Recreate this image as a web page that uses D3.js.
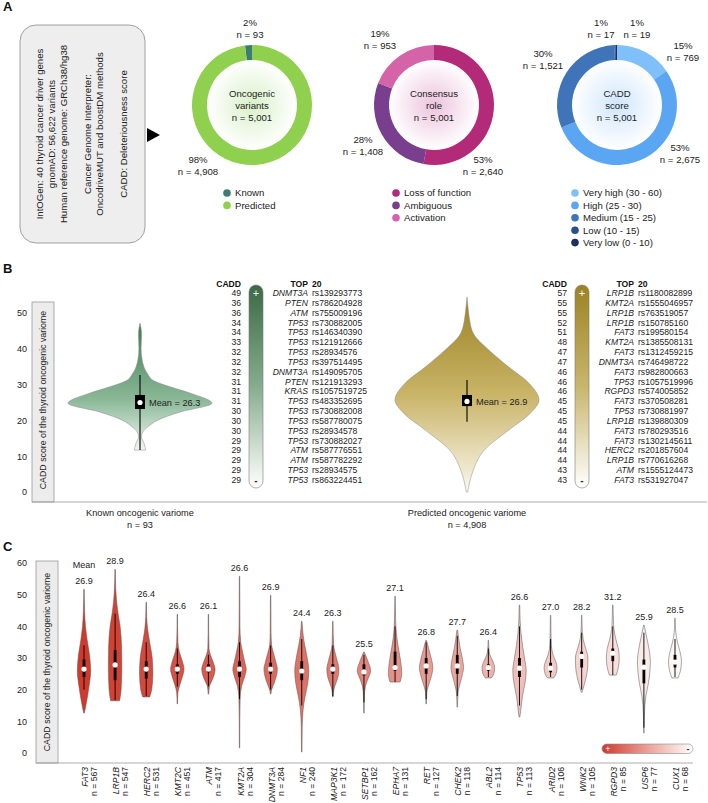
<!DOCTYPE html>
<html>
<head>
<meta charset="utf-8">
<script src="https://cdn.jsdelivr.net/npm/d3@7"></script>
<style>
  body { margin: 0; background: #fff; }
  svg { display: block; font-family: "Liberation Sans", Arial, Helvetica, sans-serif; }
</style>
</head>
<body>
<script>
// ---------- panel A data ----------
const oncogenicLabels = ["Known", "Predicted"]
const oncogenicCounts = [93, 4908]
const oncogenicPercents = ["2%", "98%"]

const roleLabels = ["Loss of function", "Ambiguous", "Activation"]
const roleCounts = [2640, 1408, 953]
const rolePercents = ["53%", "28%", "19%"]

const caddLabels = ["Very high (30 - 60)", "High (25 - 30)", "Medium (15 - 25)", "Low (10 - 15)", "Very low (0 - 10)"]
const caddCounts = [769, 2675, 1521, 17, 19]
const caddPercents = ["15%", "53%", "30%", "1%", "1%"]

const sourceLines = [
    "IntOGen: 40 thyroid cancer driver genes",
    "gnomAD: 56,622 variants",
    "Human reference genome: GRCh38/hg38",
    "",
    "Cancer Genome Interpreter:",
    "OncodriveMUT and boostDM methods",
    "",
    "CADD: Deleteriousness score"
]

// ---------- panel B data ----------
const bTicks = [0, 10, 20, 30, 40, 50]
// violin profiles: [CADD, relative density]
const knownProfile = [[11.7, 0.08], [13.7, 0.055], [15.4, 0.02], [16.8, 0.04], [18.2, 0.11], [20, 0.24], [22.3, 0.55], [24.8, 1], [27.6, 0.7], [29.3, 0.43], [31, 0.2], [33.2, 0.1], [36.9, 0.03], [40, 0.015], [44, 0.022], [46, 0.012], [47.2, 0]]
const predictedProfile = [[0, 0.01], [3, 0.04], [6, 0.085], [11.7, 0.24], [17.3, 0.58], [22, 0.88], [25.7, 1], [30.4, 0.86], [34.9, 0.58], [39.7, 0.3], [44.4, 0.085], [48.9, 0.03], [52, 0.012], [54.5, 0]]
// [whisker low, q1, median, q3, whisker high]
const knownBox = [11.7, 23.2, 25, 27.1, 32.7]
const predictedBox = [19.6, 24, 25.3, 27.1, 31.3]
const knownMean = 26.3
const predictedMean = 26.9

const knownTopCadd = [49, 36, 36, 34, 34, 33, 32, 32, 32, 31, 31, 31, 30, 30, 30, 29, 29, 29, 29, 29]
const knownTopGenes = ["DNMT3A", "PTEN", "ATM", "TP53", "TP53", "TP53", "TP53", "TP53", "DNMT3A", "PTEN", "KRAS", "TP53", "TP53", "TP53", "TP53", "TP53", "ATM", "ATM", "TP53", "TP53"]
const knownTopIds = ["rs139293773", "rs786204928", "rs755009196", "rs730882005", "rs146340390", "rs121912666", "rs28934576", "rs397514495", "rs149095705", "rs121913293", "rs1057519725", "rs483352695", "rs730882008", "rs587780075", "rs28934578", "rs730882027", "rs587776551", "rs587782292", "rs28934575", "rs863224451"]

const predictedTopCadd = [57, 55, 55, 52, 51, 48, 47, 47, 46, 46, 46, 45, 45, 45, 44, 44, 44, 44, 43, 43]
const predictedTopGenes = ["LRP1B", "KMT2A", "LRP1B", "LRP1B", "FAT3", "KMT2A", "FAT3", "DNMT3A", "FAT3", "TP53", "RGPD3", "FAT3", "TP53", "LRP1B", "FAT3", "FAT3", "HERC2", "LRP1B", "ATM", "FAT3"]
const predictedTopIds = ["rs1180082899", "rs1555046957", "rs763519057", "rs150785160", "rs199580154", "rs1385508131", "rs1312459215", "rs746498722", "rs982800663", "rs1057519996", "rs574005852", "rs370508281", "rs730881997", "rs139880309", "rs780293516", "rs1302145611", "rs201857604", "rs770616268", "rs1555124473", "rs531927047"]

// ---------- panel C data ----------
const cTicks = [0, 10, 20, 30, 40, 50, 60]
const geneNames = ["FAT3", "LRP1B", "HERC2", "KMT2C", "ATM", "KMT2A", "DNMT3A", "NF1", "MAP3K1", "SETBP1", "EPHA7", "RET", "CHEK2", "ABL2", "TP53", "ARID2", "WNK2", "RGPD3", "USP6", "CUX1"]
const geneCounts = [567, 547, 531, 451, 417, 304, 284, 240, 172, 162, 131, 127, 118, 114, 113, 106, 105, 85, 77, 68]
const geneMeans = [26.9, 28.9, 26.4, 26.6, 26.1, 26.6, 26.9, 24.4, 26.3, 25.5, 27.1, 26.8, 27.7, 26.4, 26.6, 27.0, 28.2, 31.2, 25.9, 28.5]
// [whisker low, q1, median, q3, whisker high]
const geneBoxes = [
    [20, 24, 26.5, 29.5, 34], [16.7, 23, 27.8, 32.5, 44], [18, 23.5, 26.5, 29, 35], [21, 25, 26.5, 28, 33],
    [21, 25.5, 26.5, 28, 31], [17, 24, 26.5, 29, 35], [20, 25, 26.5, 28.5, 34], [15, 23, 25.9, 29, 36],
    [18, 25, 26.5, 28, 34], [16, 24.5, 25.6, 28, 31], [22.4, 26, 27, 32, 40], [17, 25, 27.5, 30, 35],
    [18, 25, 27.5, 31, 37], [24, 26, 27, 28, 33], [15, 24, 26.8, 30, 40], [24, 25.5, 26.8, 28.5, 36],
    [20, 27, 30.5, 32, 38], [24.6, 29, 31.5, 33, 40], [8, 22, 27.1, 29.5, 38], [24, 27, 28.7, 31, 36]
]
// violin profiles: [CADD, relative density]
const geneProfiles = [
    [[12.6, 0.05], [16, 0.37], [21, 0.75], [26, 1], [31, 0.82], [36, 0.45], [40, 0.22], [45, 0.09], [51.7, 0.03]],
    [[16.5, 0.67], [20, 0.9], [27, 1], [33, 0.97], [40, 0.75], [44, 0.45], [48, 0.22], [52, 0.09], [58, 0.03]],
    [[17.7, 0.52], [20, 0.82], [25, 1], [30, 0.9], [35, 0.52], [39, 0.22], [43, 0.07], [47.6, 0.03]],
    [[15.5, 0.03], [19, 0.09], [21.5, 0.37], [24, 0.75], [26.5, 1], [29, 0.75], [32, 0.3], [35, 0.09], [40, 0.04], [43.8, 0.03]],
    [[18.6, 0.04], [21, 0.15], [22.5, 0.45], [25, 0.9], [26.5, 1], [28.5, 0.75], [31, 0.3], [33, 0.09], [38, 0.04], [43.8, 0.03]],
    [[1.6, 0.03], [10, 0.04], [17, 0.09], [21, 0.3], [24, 0.75], [26.5, 1], [29, 0.75], [32, 0.45], [35, 0.18], [40, 0.06], [55.8, 0.03]],
    [[18.6, 0.04], [20, 0.15], [22, 0.52], [26.5, 1], [29, 0.75], [32, 0.37], [34, 0.15], [38, 0.06], [49.8, 0.03]],
    [[0.3, 0.04], [8, 0.07], [14, 0.22], [18, 0.52], [22, 0.9], [26, 1.05], [30, 0.82], [34, 0.45], [37, 0.22], [41.6, 0.04]],
    [[17.7, 0.04], [20, 0.15], [22, 0.45], [24.5, 0.82], [26.5, 0.9], [29, 0.67], [32, 0.3], [34, 0.12], [41.6, 0.03]],
    [[12.6, 0.04], [18, 0.07], [21, 0.22], [23, 0.52], [26, 1], [29, 0.6], [31, 0.22], [31.9, 0.04]],
    [[22.4, 0.75], [25, 1], [28, 0.9], [32, 0.6], [36, 0.3], [40, 0.12], [45, 0.06], [49.5, 0.03]],
    [[15.5, 0.04], [19, 0.09], [21, 0.3], [24, 0.75], [27, 1], [30, 0.75], [33, 0.37], [35.6, 0.06]],
    [[14.5, 0.04], [19, 0.12], [21, 0.3], [24, 0.67], [27, 0.94], [30, 0.75], [33, 0.45], [36, 0.22], [38.8, 0.06]],
    [[23.7, 0.45], [25, 0.82], [27, 0.94], [29, 0.67], [31, 0.22], [33, 0.09], [35.6, 0.03]],
    [[11.4, 0.06], [14, 0.22], [18, 0.45], [22, 0.82], [26, 1], [30, 0.75], [34, 0.45], [38, 0.22], [42, 0.09], [46.7, 0.04]],
    [[23.7, 0.45], [25, 0.82], [27, 0.97], [29, 0.75], [31, 0.37], [34, 0.12], [38, 0.06], [43.5, 0.03]],
    [[19.2, 0.07], [21, 0.3], [24, 0.67], [27, 0.9], [30, 0.94], [33, 0.6], [36, 0.22], [40, 0.06], [43.5, 0.03]],
    [[24.6, 0.52], [27, 0.82], [30, 0.97], [33, 0.82], [36, 0.45], [39, 0.18], [42, 0.09], [46.7, 0.04]],
    [[6.3, 0.04], [12, 0.07], [18, 0.3], [22, 0.67], [26, 0.9], [29, 0.97], [33, 0.75], [37, 0.37], [40.4, 0.04]],
    [[23.7, 0.45], [26, 0.82], [29, 0.97], [32, 0.75], [35, 0.37], [38, 0.12], [42.6, 0.03]]
]

// ---------- drawing ----------
const svg = d3.select("body").append("svg")
    .attr("width", 708)
    .attr("height", 803)
const defs = svg.append("defs")
const textColor = "#222"

function linearGradient(id, stops, horizontal = false) {
    const g = defs.append("linearGradient")
        .attr("id", id)
        .attr("x1", 0).attr("y1", 0)
        .attr("x2", horizontal ? 1 : 0).attr("y2", horizontal ? 0 : 1)
    g.selectAll("stop").data(stops).join("stop")
        .attr("offset", d => d[0])
        .attr("stop-color", d => d[1])
    return `url(#${id})`
}

function panelLetter(letter, y) {
    svg.append("text")
        .attr("x", 3).attr("y", y)
        .attr("font-size", 13).attr("font-weight", "bold")
        .attr("fill", "#111")
        .text(letter)
}

// violin path, profile given low -> high CADD
const violinPath = (cx, y, w, profile) => d3.area()
    .curve(d3.curveMonotoneY)
    .y(d => y(d[0]))
    .x0(d => cx - w(d[1]))
    .x1(d => cx + w(d[1]))(profile.slice().reverse())

// ===== A =====
panelLetter("A", 11)

const boxA = svg.append("g")
boxA.append("rect")
    .attr("x", 20).attr("y", 25)
    .attr("width", 125).attr("height", 218)
    .attr("rx", 16)
    .attr("fill", "#eeeeee")
    .attr("stroke", "#8a8a8a")
    .attr("stroke-width", 0.8)

const lineX = d3.scalePoint().domain(d3.range(sourceLines.length)).range([42.5, 126.5])
boxA.selectAll("text")
    .data(sourceLines)
    .join("text")
    .attr("transform", (d, i) => `translate(${lineX(i)},134) rotate(-90)`)
    .attr("text-anchor", "middle")
    .attr("font-size", 9.6)
    .attr("fill", textColor)
    .text(d => d)

svg.append("path")
    .attr("d", "M147,128L160,135L147,142Z")
    .attr("fill", "#000")

const donuts = [
    {
        id: "onc", cx: 252, title: ["Oncogenic", "variants", "n = 5,001"],
        labels: oncogenicLabels, counts: oncogenicCounts, percents: oncogenicPercents,
        colors: ["#3d7b73", "#8fd14f"], tint: "#d9f0c8", reverse: true,
        labelPos: [[-2, -83], [-54, 54]], legendX: 227
    },
    {
        id: "role", cx: 434, title: ["Consensus", "role", "n = 5,001"],
        labels: roleLabels, counts: roleCounts, percents: rolePercents,
        colors: ["#b22a78", "#7a3e8e", "#d563a8"], tint: "#ecc3dc", reverse: false,
        labelPos: [[49, 54], [-71, 34], [-54, -72]], legendX: 396
    },
    {
        id: "cadd", cx: 617, title: ["CADD", "score", "n = 5,001"],
        labels: caddLabels, counts: caddCounts, percents: caddPercents,
        colors: ["#80c0fa", "#5ba6f3", "#3f74b8", "#2b4f88", "#1e315d"], tint: "#cfe6fb", reverse: false,
        labelPos: [[66, -60], [63, 42], [-74, -52], [-16, -83], [20, -83]], legendX: 575
    }
]
const donutCy = 105
const arc = d3.arc().innerRadius(45).outerRadius(60)

donuts.forEach(dn => {
    const pie = d3.pie().sort(null)
    if (dn.reverse) pie.startAngle(2 * Math.PI).endAngle(0)
    const arcs = pie(dn.counts)

    const rg = defs.append("radialGradient").attr("id", `glow-${dn.id}`)
    rg.append("stop").attr("offset", 0).attr("stop-color", dn.tint)
    rg.append("stop").attr("offset", 1).attr("stop-color", "#ffffff")

    const g = svg.append("g").attr("transform", `translate(${dn.cx},${donutCy})`)
    g.append("circle").attr("r", 45).attr("fill", `url(#glow-${dn.id})`)
    g.selectAll("path.slice")
        .data(arcs)
        .join("path")
        .attr("class", "slice")
        .attr("d", arc)
        .attr("fill", (d, i) => dn.colors[i])

    g.selectAll("text.title")
        .data(dn.title)
        .join("text")
        .attr("class", "title")
        .attr("text-anchor", "middle")
        .attr("y", (d, i) => (i - 1) * 12 + 3.5)
        .attr("font-size", 9.6)
        .attr("fill", textColor)
        .text(d => d)

    // outside labels
    dn.counts.forEach((c, i) => {
        const [dx, dy] = dn.labelPos[i]
        const t = g.append("text")
            .attr("text-anchor", "middle")
            .attr("font-size", 9.6)
            .attr("fill", textColor)
        t.append("tspan").attr("x", dx).attr("y", dy + 3.5).text(dn.percents[i])
        t.append("tspan").attr("x", dx).attr("y", dy + 15.5).text(`n = ${d3.format(",")(c)}`)
    })

    // legend
    const lg = svg.append("g").attr("transform", `translate(${dn.legendX},193)`)
    const items = lg.selectAll("g").data(dn.labels).join("g")
        .attr("transform", (d, i) => `translate(0,${i * 12.4})`)
    items.append("circle").attr("r", 3.8).attr("fill", (d, i) => dn.colors[i])
    items.append("text")
        .attr("x", 8).attr("y", 3.4)
        .attr("font-size", 9.6)
        .attr("fill", textColor)
        .text(d => d)
})

// ===== B =====
panelLetter("B", 273)

const yB = d3.scaleLinear().domain([0, 50]).range([492, 313])
const wB = d3.scaleLinear().domain([0, 1]).range([0, 72])

svg.append("rect")
    .attr("x", 32).attr("y", 302)
    .attr("width", 22).attr("height", 200)
    .attr("fill", "#ececec")
    .attr("stroke", "#9a9a9a")
    .attr("stroke-width", 0.8)
svg.append("text")
    .attr("transform", "translate(46,400) rotate(-90)")
    .attr("text-anchor", "middle")
    .attr("font-size", 8.8)
    .attr("fill", textColor)
    .text("CADD score of the thyroid oncogenic variome")

svg.append("g")
    .attr("transform", "translate(29,0)")
    .call(d3.axisLeft(yB).tickValues(bTicks).tickSize(0).tickPadding(2))
    .call(g => g.select(".domain").remove())
    .call(g => g.selectAll("text").attr("font-size", 9).attr("fill", textColor).attr("font-family", null))

svg.append("line")
    .attr("x1", 32).attr("x2", 707)
    .attr("y1", 502).attr("y2", 502)
    .attr("stroke", "#9a9a9a")
    .attr("stroke-width", 0.8)

const knownFill = linearGradient("knownFill", [[0, "#3f7a50"], [0.6, "#8ab897"], [1, "#f2f7f3"]])
const predictedFill = linearGradient("predFill", [[0, "#9c8323"], [0.5, "#c9b468"], [1, "#fbf8ee"]])
const knownBar = linearGradient("knownBar", [[0, "#3b6a44"], [0.5, "#86ad8d"], [1, "#ffffff"]])
const predictedBar = linearGradient("predBar", [[0, "#9c8222"], [0.5, "#c8b66c"], [1, "#ffffff"]])

function drawBViolin(cx, profile, box, mean, fill, title, n) {
    const g = svg.append("g")
    g.append("path")
        .attr("d", violinPath(cx, yB, wB, profile))
        .attr("fill", fill)
        .attr("stroke", "#8a8a8a")
        .attr("stroke-width", 0.5)
    const [wl, q1, med, q3, wh] = box
    g.append("line")
        .attr("x1", cx).attr("x2", cx)
        .attr("y1", yB(wl)).attr("y2", yB(wh))
        .attr("stroke", "#000").attr("stroke-width", 1.1)
    g.append("rect")
        .attr("x", cx - 5).attr("width", 10)
        .attr("y", yB(q3)).attr("height", yB(q1) - yB(q3))
        .attr("fill", "#000")
    g.append("circle")
        .attr("cx", cx).attr("cy", yB(med)).attr("r", 2.6)
        .attr("fill", "#fff")
    g.append("text")
        .attr("x", cx + 9).attr("y", yB(med) + 3.2)
        .attr("font-size", 9.2)
        .attr("fill", textColor)
        .text(`Mean = ${mean}`)
    g.append("text")
        .attr("x", cx).attr("y", 516)
        .attr("text-anchor", "middle")
        .attr("font-size", 9.2)
        .attr("fill", textColor)
        .text(title)
    g.append("text")
        .attr("x", cx).attr("y", 528)
        .attr("text-anchor", "middle")
        .attr("font-size", 9.2)
        .attr("fill", textColor)
        .text(n)
}

drawBViolin(140, knownProfile, knownBox, knownMean, knownFill, "Known oncogenic variome", "n = 93")
drawBViolin(467, predictedProfile, predictedBox, predictedMean, predictedFill, "Predicted oncogenic variome", "n = 4,908")

function drawTopTable(x0, cadd, genes, ids, barFill) {
    const g = svg.append("g").attr("transform", `translate(${x0},0)`)
    const row = d3.scalePoint().domain(d3.range(cadd.length)).range([293, 480])
    const fs = 8.6

    g.append("text").attr("x", 0).attr("y", 286.5)
        .attr("text-anchor", "end").attr("font-weight", "bold").attr("font-size", fs)
        .attr("fill", "#111").text("CADD")
    g.append("text").attr("x", 67).attr("y", 286.5)
        .attr("text-anchor", "end").attr("font-weight", "bold").attr("font-size", fs)
        .attr("fill", "#111").text("TOP")
    g.append("text").attr("x", 71).attr("y", 286.5)
        .attr("font-weight", "bold").attr("font-size", fs)
        .attr("fill", "#111").text("20")

    g.append("rect")
        .attr("x", 8).attr("y", 285)
        .attr("width", 14).attr("height", 203)
        .attr("rx", 7)
        .attr("fill", barFill)
        .attr("stroke", "#7a7a7a")
        .attr("stroke-width", 0.6)
    g.append("text").attr("x", 15).attr("y", 297)
        .attr("text-anchor", "middle").attr("font-size", 11).attr("fill", "#fff").text("+")
    g.append("text").attr("x", 15).attr("y", 484)
        .attr("text-anchor", "middle").attr("font-size", 10).attr("font-weight", "bold").attr("fill", "#333").text("-")

    g.selectAll("text.cadd").data(cadd).join("text")
        .attr("class", "cadd")
        .attr("x", 0).attr("y", (d, i) => row(i) + 3)
        .attr("text-anchor", "end").attr("font-size", fs).attr("fill", textColor)
        .text(d => d)
    g.selectAll("text.gene").data(genes).join("text")
        .attr("class", "gene")
        .attr("x", 67).attr("y", (d, i) => row(i) + 3)
        .attr("text-anchor", "end").attr("font-size", fs).attr("font-style", "italic").attr("fill", textColor)
        .text(d => d)
    g.selectAll("text.rsid").data(ids).join("text")
        .attr("class", "rsid")
        .attr("x", 71).attr("y", (d, i) => row(i) + 3)
        .attr("font-size", fs).attr("fill", textColor)
        .text(d => d)
}

drawTopTable(241, knownTopCadd, knownTopGenes, knownTopIds, knownBar)
drawTopTable(567, predictedTopCadd, predictedTopGenes, predictedTopIds, predictedBar)

// ===== C =====
panelLetter("C", 551)

const yC = d3.scaleLinear().domain([0, 60]).range([753, 563])
const xC = d3.scalePoint().domain(geneNames).range([84, 675])
const wC = d3.scaleLinear().domain([0, 1]).range([0, 6.7])
const geneColor = d3.scaleLinear()
    .domain([0, 8, 19])
    .range(["#d1392b", "#e07a6e", "#fdf6f5"])

svg.append("rect")
    .attr("x", 36).attr("y", 561)
    .attr("width", 22).attr("height", 202)
    .attr("fill", "#ececec")
    .attr("stroke", "#9a9a9a")
    .attr("stroke-width", 0.8)
svg.append("text")
    .attr("transform", "translate(50,662) rotate(-90)")
    .attr("text-anchor", "middle")
    .attr("font-size", 8.8)
    .attr("fill", textColor)
    .text("CADD score of the thyroid oncogenic variome")

svg.append("g")
    .attr("transform", "translate(29,0)")
    .call(d3.axisLeft(yC).tickValues(cTicks).tickSize(0).tickPadding(2))
    .call(g => g.select(".domain").remove())
    .call(g => g.selectAll("text").attr("font-size", 9).attr("fill", textColor).attr("font-family", null))

svg.append("line")
    .attr("x1", 36).attr("x2", 693)
    .attr("y1", 763).attr("y2", 763)
    .attr("stroke", "#9a9a9a")
    .attr("stroke-width", 0.8)

const genes = svg.append("g")
    .selectAll("g")
    .data(geneNames)
    .join("g")
    .attr("transform", d => `translate(${xC(d)},0)`)

genes.append("path")
    .attr("d", (d, i) => violinPath(0, yC, wC, geneProfiles[i]))
    .attr("fill", (d, i) => geneColor(i))
    .attr("stroke", "#555")
    .attr("stroke-width", 0.5)
genes.append("line")
    .attr("y1", (d, i) => yC(geneBoxes[i][0]))
    .attr("y2", (d, i) => yC(geneBoxes[i][4]))
    .attr("stroke", "#000").attr("stroke-width", 0.9)
genes.append("line")
    .attr("y1", (d, i) => yC(geneBoxes[i][1]))
    .attr("y2", (d, i) => yC(geneBoxes[i][3]))
    .attr("stroke", "#000").attr("stroke-width", 2.8)
genes.append("circle")
    .attr("cy", (d, i) => yC(geneBoxes[i][2]))
    .attr("r", 2.6)
    .attr("fill", "#fff")

// mean labels above each violin
genes.append("text")
    .attr("y", (d, i) => yC(d3.max(geneProfiles[i], p => p[0])) - 5)
    .attr("text-anchor", "middle")
    .attr("font-size", 9)
    .attr("fill", textColor)
    .text((d, i) => d3.format(".1f")(geneMeans[i]))
svg.append("text")
    .attr("x", xC(geneNames[0])).attr("y", 568)
    .attr("text-anchor", "middle")
    .attr("font-size", 9)
    .attr("fill", textColor)
    .text("Mean")

// rotated gene labels
const glabel = genes.append("g").attr("transform", "translate(0,767) rotate(-90)")
glabel.append("text")
    .attr("y", 4)
    .attr("text-anchor", "end")
    .attr("font-size", 8.6)
    .attr("font-style", "italic")
    .attr("fill", textColor)
    .text(d => d)
glabel.append("text")
    .attr("y", 13)
    .attr("text-anchor", "end")
    .attr("font-size", 8.6)
    .attr("fill", textColor)
    .text((d, i) => `n = ${geneCounts[i]}`)

// colour key
const keyFill = linearGradient("keyFill", [[0, "#d1392b"], [0.5, "#eaa197"], [1, "#ffffff"]], true)
svg.append("rect")
    .attr("x", 602).attr("y", 744)
    .attr("width", 91).attr("height", 9.5)
    .attr("rx", 4.75)
    .attr("fill", keyFill)
    .attr("stroke", "#8a8a8a")
    .attr("stroke-width", 0.6)
svg.append("text").attr("x", 608).attr("y", 752)
    .attr("text-anchor", "middle").attr("font-size", 9).attr("fill", "#fff").text("+")
svg.append("text").attr("x", 688).attr("y", 751.5)
    .attr("text-anchor", "middle").attr("font-size", 9).attr("font-weight", "bold").attr("fill", "#333").text("-")
</script>
</body>
</html>
